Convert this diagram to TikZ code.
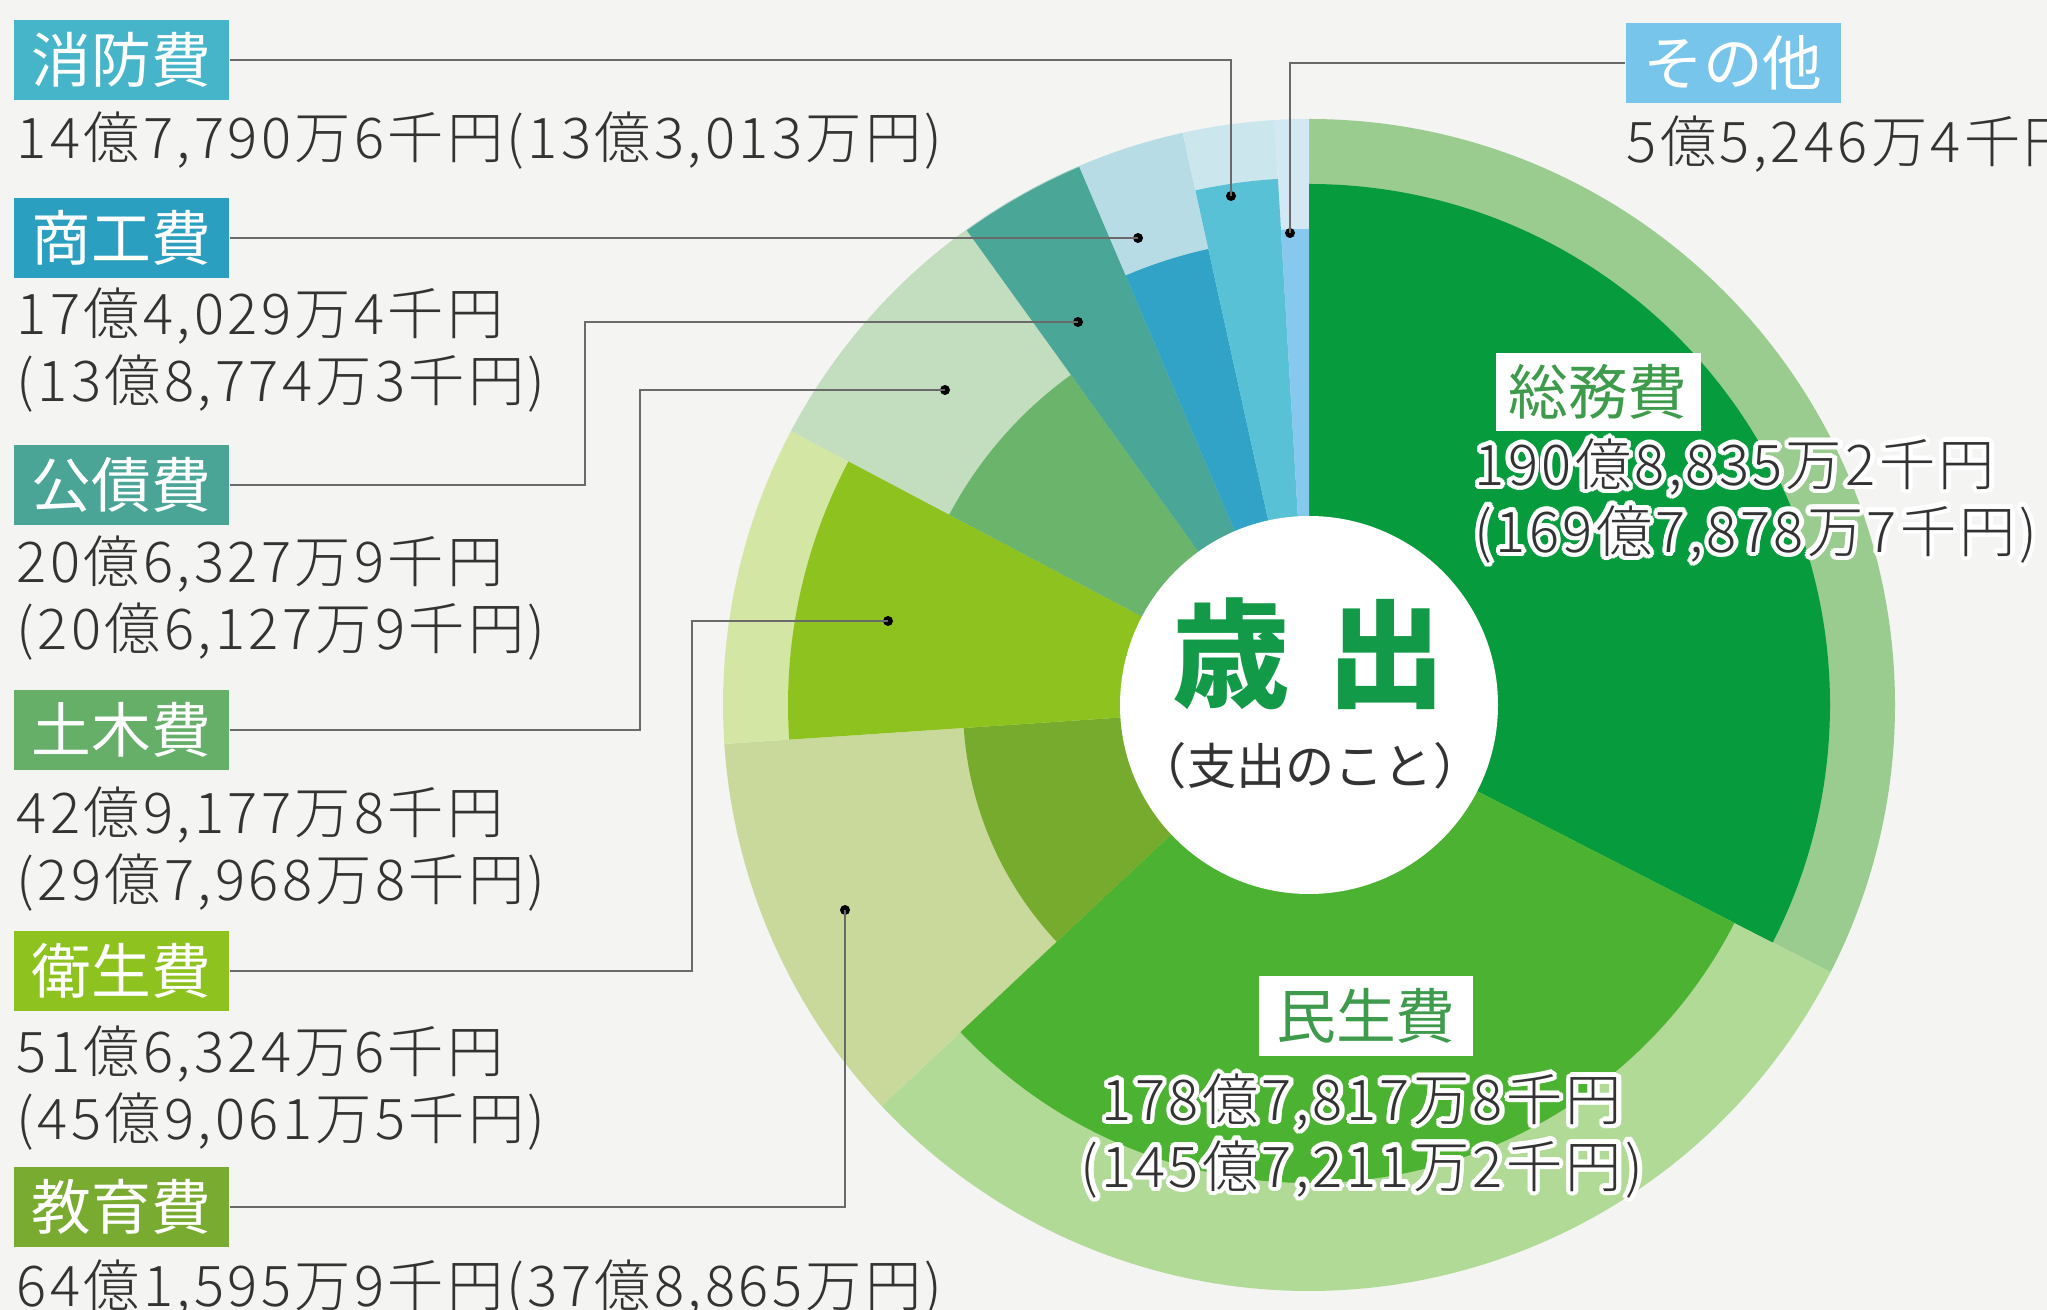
\documentclass[tikz,border=0pt]{standalone}
\usepackage{fontspec}
\setmainfont{Noto Sans CJK JP}
\IfFontExistsTF{Noto Sans CJK JP Light}
  {\newfontfamily\amtfamily{Noto Sans CJK JP Light}[LetterSpace=6]}
  {\IfFontExistsTF{Noto Sans CJK JP DemiLight}
    {\newfontfamily\amtfamily{Noto Sans CJK JP DemiLight}[LetterSpace=6]}
    {\newfontfamily\amtfamily{Noto Sans CJK JP}[LetterSpace=6]}}
\usepackage{contour}
\contourlength{1.3pt}
\usepackage{tikz}
\usetikzlibrary{calc}
\definecolor{bgc}{HTML}{F4F4F2}
\definecolor{txtc}{HTML}{333333}
\definecolor{leadc}{HTML}{6A6A6A}
\definecolor{titlegreen}{HTML}{139A48}
\definecolor{boxgreen}{HTML}{3E9B4C}
% dark / light colours of the rings
\definecolor{soumuD}{HTML}{069C3E}\definecolor{soumuL}{HTML}{9BCC8F}
\definecolor{minseiD}{HTML}{4BB331}\definecolor{minseiL}{HTML}{B2DA97}
\definecolor{kyoikuD}{HTML}{77AB2D}\definecolor{kyoikuL}{HTML}{C9D99C}
\definecolor{eiseiD}{HTML}{8EC31F}\definecolor{eiseiL}{HTML}{D3E6A4}
\definecolor{dobokuD}{HTML}{6BB46C}\definecolor{dobokuL}{HTML}{C2DEBE}
\definecolor{kosaiD}{HTML}{4AA797}\definecolor{kosaiL}{HTML}{A9D3CA}
\definecolor{shokoD}{HTML}{31A3C6}\definecolor{shokoL}{HTML}{B7DCE6}
\definecolor{shoboD}{HTML}{58C1D5}\definecolor{shoboL}{HTML}{CCE6EE}
\definecolor{sonotaD}{HTML}{86C8EE}\definecolor{sonotaL}{HTML}{D3E8F3}
% label boxes
\definecolor{shoboB}{HTML}{46B5C9}
\definecolor{shokoB}{HTML}{2B9FC0}
\definecolor{kosaiB}{HTML}{4AA597}
\definecolor{dobokuB}{HTML}{66AF69}
\definecolor{eiseiB}{HTML}{8DC21F}
\definecolor{kyoikuB}{HTML}{78AB2F}
\definecolor{sonotaB}{HTML}{78C5EB}
\newcommand{\amtsize}{\amtfamily\fontsize{16pt}{19pt}\selectfont}
\newcommand{\lblsize}{\fontsize{17pt}{20pt}\selectfont}

\begin{document}
\begin{tikzpicture}[x=0.1mm,y=0.1mm,
  lbl/.style={fill=#1,text=white,minimum width=21.5mm,minimum height=8mm,inner sep=0pt,font=\lblsize},
  wlbl/.style={fill=white,text=boxgreen,minimum width=20.5mm,minimum height=7.8mm,inner sep=0pt,font=\lblsize},
  amt/.style={anchor=west,align=left,inner sep=0pt,text=txtc,font=\amtsize},
  dot/.style={circle,fill=black,minimum size=1mm,inner sep=0pt},
  leader/.style={draw=leadc,line width=0.7pt}]
% ==========================================
\fill[bgc] (0,0) rectangle (2047,-1310);
\useasboundingbox (0,0) rectangle (2047,-1310);
%
\begin{scope}[shift={(1309,-705)}]
% outer (light) wedges
\fill[soumuL] (0,0) -- (90:586) arc[start angle=90,end angle=-27.12,radius=586] -- cycle;
\fill[minseiL] (0,0) -- (-27.12:586) arc[start angle=-27.12,end angle=-136.82,radius=586] -- cycle;
\fill[kyoikuL] (0,0) -- (-136.82:586) arc[start angle=-136.82,end angle=-176.19,radius=586] -- cycle;
\fill[eiseiL] (0,0) -- (-176.19:586) arc[start angle=-176.19,end angle=-207.87,radius=586] -- cycle;
\fill[dobokuL] (0,0) -- (-207.87:586) arc[start angle=-207.87,end angle=-234.21,radius=586] -- cycle;
\fill[kosaiL] (0,0) -- (-234.21:586) arc[start angle=-234.21,end angle=-246.87,radius=586] -- cycle;
\fill[shokoL] (0,0) -- (-246.87:586) arc[start angle=-246.87,end angle=-257.55,radius=586] -- cycle;
\fill[shoboL] (0,0) -- (-257.55:586) arc[start angle=-257.55,end angle=-266.62,radius=586] -- cycle;
\fill[sonotaL] (0,0) -- (-266.62:586) arc[start angle=-266.62,end angle=-270,radius=586] -- cycle;
% inner (dark) wedges
\fill[soumuD] (0,0) -- (90:521) arc[start angle=90,end angle=-27.12,radius=521] -- cycle;
\fill[minseiD] (0,0) -- (-27.12:478) arc[start angle=-27.12,end angle=-136.82,radius=478] -- cycle;
\fill[kyoikuD] (0,0) -- (-136.82:346) arc[start angle=-136.82,end angle=-176.19,radius=346] -- cycle;
\fill[eiseiD] (0,0) -- (-176.19:521) arc[start angle=-176.19,end angle=-207.87,radius=521] -- cycle;
\fill[dobokuD] (0,0) -- (-207.87:407) arc[start angle=-207.87,end angle=-234.21,radius=407] -- cycle;
\fill[kosaiD] (0,0) -- (-234.21:585) arc[start angle=-234.21,end angle=-246.87,radius=585] -- cycle;
\fill[shokoD] (0,0) -- (-246.87:467) arc[start angle=-246.87,end angle=-257.55,radius=467] -- cycle;
\fill[shoboD] (0,0) -- (-257.55:527) arc[start angle=-257.55,end angle=-266.62,radius=527] -- cycle;
\fill[sonotaD] (0,0) -- (-266.62:476) arc[start angle=-266.62,end angle=-270,radius=476] -- cycle;
%
\node[circle,fill=white,minimum size=37.8mm,inner sep=0pt] (core) at (0,0) {};
\node[text=titlegreen,font=\fontsize{33.5pt}{36pt}\selectfont\bfseries,inner sep=0pt] (title) at (0,51) {歳\hspace{3.8mm}出};
\node[text=txtc,font=\fontsize{14pt}{16pt}\selectfont,inner sep=0pt] (sub) at (1,-61) {（支出のこと）};
\end{scope}
%
% labels on the left
\node[lbl=shoboB] (lShobo) at (121.5,-60) {消防費};
\node[amt] (aShobo) at (16,-141) {14億7,790万6千円(13億3,013万円)};
\node[lbl=shokoB] (lShoko) at (121.5,-238) {商工費};
\node[amt] (aShoko) at (16,-350) {17億4,029万4千円\\(13億8,774万3千円)};
\node[lbl=kosaiB] (lKosai) at (121.5,-485) {公債費};
\node[amt] (aKosai) at (16,-598) {20億6,327万9千円\\(20億6,127万9千円)};
\node[lbl=dobokuB] (lDoboku) at (121.5,-730) {土木費};
\node[amt] (aDoboku) at (16,-849) {42億9,177万8千円\\(29億7,968万8千円)};
\node[lbl=eiseiB] (lEisei) at (121.5,-971) {衛生費};
\node[amt] (aEisei) at (16,-1088) {51億6,324万6千円\\(45億9,061万5千円)};
\node[lbl=kyoikuB] (lKyoiku) at (121.5,-1207) {教育費};
\node[amt] (aKyoiku) at (16,-1289) {64億1,595万9千円(37億8,865万円)};
\node[lbl=sonotaB] (lSonota) at (1733,-63) {その他};
\node[amt] (aSonota) at (1626,-144) {5億5,246万4千円};
%
% labels inside the chart
\node[wlbl] (lSoumu) at (1598,-392) {総務費};
\node[amt] (aSoumu) at (1474,-503) {\contour{white}{190億8,835万2千円}\\\contour{white}{(169億7,878万7千円)}};
\node[wlbl,minimum width=21.4mm,minimum height=8mm] (lMinsei) at (1366,-1016) {民生費};
\node[amt,anchor=center,align=center] (aMinsei) at (1362,-1138) {\contour{white}{178億7,817万8千円}\\\contour{white}{(145億7,211万2千円)}};
%
% dots and leaders
\node[dot] (dSonota) at (1290,-233) {};
\node[dot] (dShobo) at (1231,-196) {};
\node[dot] (dShoko) at (1138,-238) {};
\node[dot] (dKosai) at (1078,-322) {};
\node[dot] (dDoboku) at (945,-390) {};
\node[dot] (dEisei) at (888,-621) {};
\node[dot] (dKyoiku) at (845,-910) {};
\coordinate (kKosai) at (585,-322);
\coordinate (kDoboku) at (640,-390);
\coordinate (kEisei) at (692,-621);
%
\draw[leader] (lShobo.east) -| (dShobo.center);
\draw[leader] (lSonota.west) -| (dSonota.center);
\draw[leader] (lShoko.east) -- (dShoko.center);
\draw[leader] (lKosai.east) -| (kKosai) -- (dKosai.center);
\draw[leader] (lDoboku.east) -| (kDoboku) -- (dDoboku.center);
\draw[leader] (lEisei.east) -| (kEisei) -- (dEisei.center);
\draw[leader] (lKyoiku.east) -| (dKyoiku.center);
% =============================================
\end{tikzpicture}
\end{document}
